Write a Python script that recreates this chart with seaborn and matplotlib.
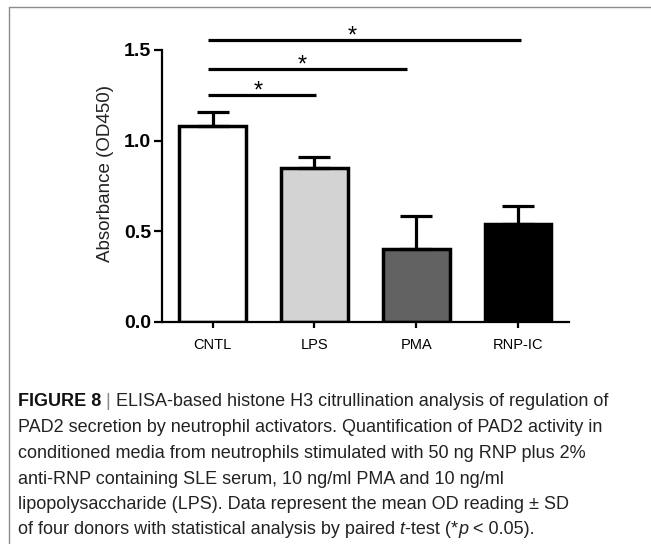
import numpy as np
import pandas as pd
import matplotlib
matplotlib.use("Agg")
import matplotlib.pyplot as plt
from matplotlib.lines import Line2D
import seaborn as sns

# ---------------- data ----------------
categories = ["CNTL", "LPS", "PMA", "RNP-IC"]
means = [1.08, 0.85, 0.40, 0.54]
sds = [0.075, 0.06, 0.185, 0.10]
bar_colors = ["#ffffff", "#d3d3d3", "#626262", "#000000"]
yticks = [0.0, 0.5, 1.0, 1.5]
ytick_labels = ["0.0", "0.5", "1.0", "1.5"]
ylabel = "Absorbance (OD450)"
# significance brackets: (x start, x end, height, star x)
brackets = [(-0.045, 1.02, 1.252, 0.45),
            (-0.045, 1.91, 1.395, 0.88),
            (-0.045, 3.03, 1.556, 1.37)]
sig_label = "*"

caption_lines = [
    [("FIGURE 8", "bold", "normal", "#111111"), (" |", "normal", "normal", "#888888"),
     (" ELISA-based histone H3 citrullination analysis of regulation of", "normal", "normal", "#222222")],
    [("PAD2 secretion by neutrophil activators. Quantification of PAD2 activity in", "normal", "normal", "#222222")],
    [("conditioned media from neutrophils stimulated with 50 ng RNP plus 2%", "normal", "normal", "#222222")],
    [("anti-RNP containing SLE serum, 10 ng/ml PMA and 10 ng/ml", "normal", "normal", "#222222")],
    [("lipopolysaccharide (LPS). Data represent the mean OD reading \u00b1 SD", "normal", "normal", "#222222")],
    [("of four donors with statistical analysis by paired", "normal", "normal", "#222222"),
     (" t", "normal", "italic", "#222222"), ("-test (*", "normal", "normal", "#222222"),
     ("p", "normal", "italic", "#222222"), (" < 0.05).", "normal", "normal", "#222222")],
]

# ---------------- style ----------------
sns.set_style("ticks")
plt.rcParams["font.family"] = ["Liberation Sans", "DejaVu Sans"]

W, H = 651, 544
fig = plt.figure(figsize=(W / 100, H / 100), dpi=100)
fig.patch.set_facecolor("white")

ax_l, ax_r, ax_t, ax_b = 161.7, 569.0, 50.0, 321.7
ax = fig.add_axes([ax_l / W, 1 - ax_b / H, (ax_r - ax_l) / W, (ax_b - ax_t) / H])
ax.set_facecolor("none")

df = pd.DataFrame({"group": categories, "value": means})
sns.barplot(data=df, x="group", y="value", hue="group", order=categories,
            hue_order=categories, palette=bar_colors, legend=False, width=0.655,
            errorbar=None, edgecolor="black", linewidth=2.5, saturation=1, ax=ax)

xpos = np.arange(len(categories))
ax.errorbar(xpos, means, yerr=[np.zeros(len(sds)), sds], fmt="none",
            ecolor="black", elinewidth=2.3, capsize=11.5, capthick=2.3, zorder=3)

ax.set_xlim(-0.5, 3.5)
ax.set_ylim(0, 1.5)
ax.set_yticks(yticks)
ax.set_yticklabels(ytick_labels, fontweight="bold", fontsize=14)
ax.set_xlabel("")
ax.set_ylabel(ylabel, fontsize=13.5, color="#222222")
ax.yaxis.label.set_va("center")
ax.yaxis.set_label_coords((105 - ax_l) / (ax_r - ax_l), (ax_b - 173.5) / (ax_b - ax_t))
sns.despine(ax=ax)
for s in ["left", "bottom"]:
    ax.spines[s].set_linewidth(1.6)
    ax.spines[s].set_color("black")
ax.tick_params(axis="y", length=5.5, width=1.6, pad=2.0, colors="black")
ax.tick_params(axis="x", length=4, width=1.6, pad=7.5, labelsize=10.5, colors="black")

for x0, x1, yb, xs in brackets:
    ax.plot([x0, x1], [yb, yb], color="black", lw=2.3, solid_capstyle="butt", clip_on=False)
    ax.annotate(sig_label, xy=(xs, yb), xytext=(0, -2.0), textcoords="offset points",
                ha="center", va="baseline", fontsize=17, color="black", annotation_clip=False)

# ---------------- border lines ----------------
bx, by = 8.5, 6.5
fig.add_artist(Line2D([bx / W, bx / W], [0, 1 - by / H], transform=fig.transFigure,
                      color="#8c8c8c", lw=1.0))
fig.add_artist(Line2D([bx / W, 1], [1 - by / H, 1 - by / H], transform=fig.transFigure,
                      color="#8c8c8c", lw=1.0))

# ---------------- caption ----------------
renderer = fig.canvas.get_renderer()
cap_x0 = 18.0
cap_size = 13.0
baselines = [406, 432, 458, 483.5, 509, 534.5]
for segs, yb in zip(caption_lines, baselines):
    x = cap_x0
    for text, weight, style, color in segs:
        t = fig.text(x / W, 1 - yb / H, text, fontsize=cap_size, fontweight=weight,
                     fontstyle=style, color=color, ha="left", va="baseline")
        bb = t.get_window_extent(renderer)
        x = bb.x1

fig.savefig("out.png", dpi=100, facecolor="white")
